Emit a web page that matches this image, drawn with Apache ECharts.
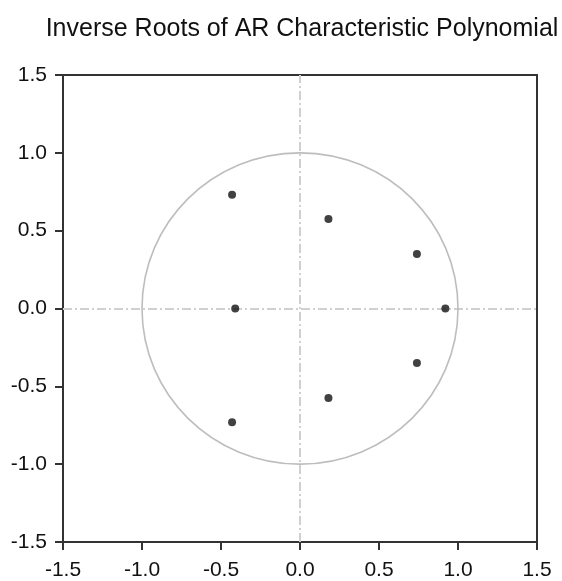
<!DOCTYPE html>
<html>
<head>
<meta charset="utf-8">
<script src="https://cdn.jsdelivr.net/npm/echarts@6/dist/echarts.min.js"></script>
<style>html,body{margin:0;padding:0;background:#fff}#c{width:562px;height:581px}</style>
</head>
<body>
<div id="c"></div>
<script>
var titleText = 'Inverse Roots of AR Characteristic Polynomial';
var tickValues = [-1.5, -1.0, -0.5, 0.0, 0.5, 1.0, 1.5];
var rootsReal = [-0.43, 0.18, 0.74, 0.92, -0.41, 0.74, 0.18, -0.43];
var rootsImag = [0.73, 0.575, 0.35, 0.0, 0.0, -0.35, -0.575, -0.73];
var unitCircle = [[0, 0, 1]]; // center x, center y, radius
var zeroLines = {x: 0, y: 0};

var points = rootsReal.map(function (r, i) { return [r, rootsImag[i]]; });

var chart = echarts.init(document.getElementById('c'), null, {renderer: 'canvas'});
var labelStyle = {color: '#111', fontFamily: 'Liberation Sans, Arial, sans-serif', fontSize: 21};
function fmt(v) { return v.toFixed(1); }

chart.setOption({
  animation: false,
  backgroundColor: '#fff',
  title: {
    text: titleText, left: 297, top: 12, textAlign: 'center',
    textStyle: {color: '#111', fontWeight: 'normal', fontSize: 25, fontFamily: 'Liberation Sans, Arial, sans-serif'}
  },
  grid: {left: 63, right: 25, top: 75, bottom: 36, show: true, borderColor: '#333', borderWidth: 2, backgroundColor: 'transparent'},
  xAxis: {
    type: 'value', min: tickValues[0], max: tickValues[tickValues.length - 1], interval: 0.5,
    axisLine: {show: true, onZero: false, lineStyle: {color: '#333', width: 2}},
    axisTick: {show: true, length: 8, lineStyle: {color: '#333', width: 2}},
    splitLine: {show: false},
    axisLabel: Object.assign({margin: 18, formatter: fmt}, labelStyle)
  },
  yAxis: {
    type: 'value', min: tickValues[0], max: tickValues[tickValues.length - 1], interval: 0.5,
    axisLine: {show: true, onZero: false, lineStyle: {color: '#333', width: 2}},
    axisTick: {show: true, length: 8, lineStyle: {color: '#333', width: 2}},
    splitLine: {show: false},
    axisLabel: Object.assign({margin: 16, formatter: fmt}, labelStyle)
  },
  series: [
    {
      type: 'custom',
      data: unitCircle,
      silent: true,
      z: 1,
      renderItem: function (params, api) {
        var c = api.coord([api.value(0), api.value(1)]);
        var s = api.size([api.value(2), api.value(2)]);
        return {
          type: 'ellipse',
          shape: {cx: c[0], cy: c[1], rx: s[0], ry: s[1]},
          style: {fill: null, stroke: '#bdbdbd', lineWidth: 1.6}
        };
      },
      markLine: {
        silent: true,
        symbol: 'none',
        label: {show: false},
        z: 1,
        lineStyle: {color: '#d0d0d0', width: 2, type: [9, 3, 2, 3]},
        data: [{xAxis: zeroLines.x}, {yAxis: zeroLines.y}]
      }
    },
    {
      type: 'scatter',
      data: points,
      symbol: 'circle',
      symbolSize: 8,
      itemStyle: {color: '#111'},
      z: 5
    }
  ]
});
</script>
</body>
</html>
